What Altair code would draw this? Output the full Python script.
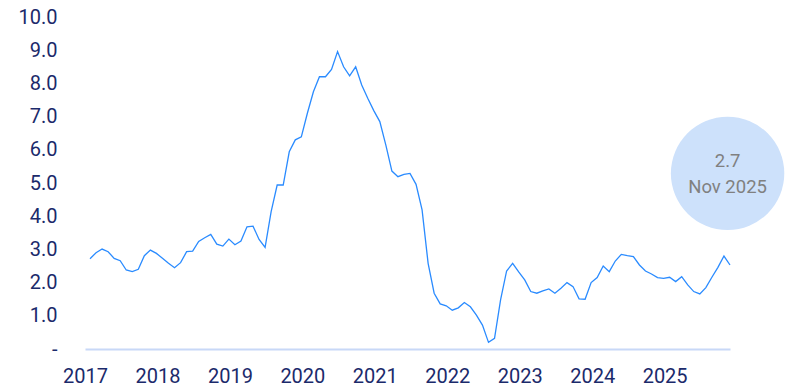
import altair as alt
import pandas as pd

# Monthly series, Jan 2017 - Nov 2025
values = [
    2.72, 2.90, 3.01, 2.93, 2.73, 2.66, 2.38, 2.33, 2.40, 2.81, 2.98, 2.88,   # 2017
    2.73, 2.58, 2.45, 2.60, 2.93, 2.95, 3.24, 3.35, 3.45, 3.16, 3.10, 3.31,   # 2018
    3.14, 3.25, 3.68, 3.70, 3.30, 3.06, 4.14, 4.94, 4.94, 5.94, 6.30, 6.39,   # 2019
    7.10, 7.75, 8.20, 8.20, 8.42, 8.96, 8.50, 8.23, 8.50, 7.95, 7.55, 7.18,   # 2020
    6.85, 6.14, 5.36, 5.19, 5.26, 5.29, 4.96, 4.19, 2.58, 1.68, 1.36, 1.30,   # 2021
    1.17, 1.24, 1.40, 1.27, 1.02, 0.72, 0.20, 0.32, 1.48, 2.35, 2.58, 2.32,   # 2022
    2.08, 1.73, 1.68, 1.75, 1.81, 1.68, 1.83, 2.00, 1.88, 1.51, 1.50, 2.00,   # 2023
    2.15, 2.50, 2.33, 2.65, 2.85, 2.81, 2.78, 2.53, 2.35, 2.26, 2.15, 2.13,   # 2024
    2.16, 2.03, 2.18, 1.93, 1.73, 1.66, 1.85, 2.16, 2.46, 2.80, 2.53,         # 2025
]
first_year = 2017
year_labels = [str(y) for y in range(2017, 2026)]
y_ticks = [0, 1, 2, 3, 4, 5, 6, 7, 8, 9, 10]

# Annotation bubble
ann_value_text = ["2.7"]
ann_date_text = ["Nov 2025"]
ann_idx = [105.6]
ann_level = [5.29]

months = pd.date_range("2017-01-01", periods=len(values), freq="MS").strftime("%Y-%m").tolist()
df = pd.DataFrame({"month": months, "idx": list(range(len(values))), "value": values})
ann = pd.DataFrame({"idx": ann_idx, "value": ann_level,
                    "t1": ann_value_text, "t2": ann_date_text})

FONT = "Roboto"
NAVY = "#1b2a6b"

x_scale = alt.Scale(domain=[-0.83, len(values) - 1], nice=False, zero=False)
y_scale = alt.Scale(domain=[0, 10], nice=False, zero=True)

x_axis = alt.Axis(
    values=[12 * k for k in range(len(year_labels))],
    labelExpr=f"'' + ({first_year} + datum.value / 12)",
    title=None, grid=False, ticks=False, labelOffset=-5, labelPadding=17,
    labelFlush=False, labelOverlap=False,
    domainColor="#c8d8f7", domainWidth=2,
    labelFont=FONT, labelFontSize=20, labelColor=NAVY,
)
y_axis = alt.Axis(
    values=y_ticks, tickCount=11,
    labelExpr="datum.value == 0 ? '-' : format(datum.value, '.1f')",
    title=None, grid=False, ticks=False, domain=False, labelPadding=28,
    labelFlush=False, labelOverlap=False,
    labelFont=FONT, labelFontSize=20, labelColor=NAVY,
)

x_enc = alt.X("idx:Q", scale=x_scale, axis=x_axis)
y_enc = alt.Y("value:Q", scale=y_scale, axis=y_axis)

line = alt.Chart(df).mark_line(color="#2a8bff", strokeWidth=1.3).encode(x=x_enc, y=y_enc)

bubble = alt.Chart(ann).mark_circle(size=12868, color="#cde1fb", opacity=1).encode(
    x=x_enc, y=y_enc
)

txt1 = alt.Chart(ann).mark_text(font=FONT, fontSize=18.5, color="#808080", dy=-12).encode(
    x=x_enc, y=y_enc, text="t1:N"
)
txt2 = alt.Chart(ann).mark_text(font=FONT, fontSize=18.5, color="#808080", dy=14).encode(
    x=x_enc, y=y_enc, text="t2:N"
)

chart = alt.layer(line, bubble, txt1, txt2).properties(
    width=645, height=332,
    autosize=alt.AutoSizeParams(type="none"),
    padding={"left": 85, "top": 17, "right": 57, "bottom": 41},
    background="white",
).configure_view(stroke=None).configure_axis(labelOverlap=False)

chart.save("out.html", embed_options={"renderer": "svg", "actions": False})
